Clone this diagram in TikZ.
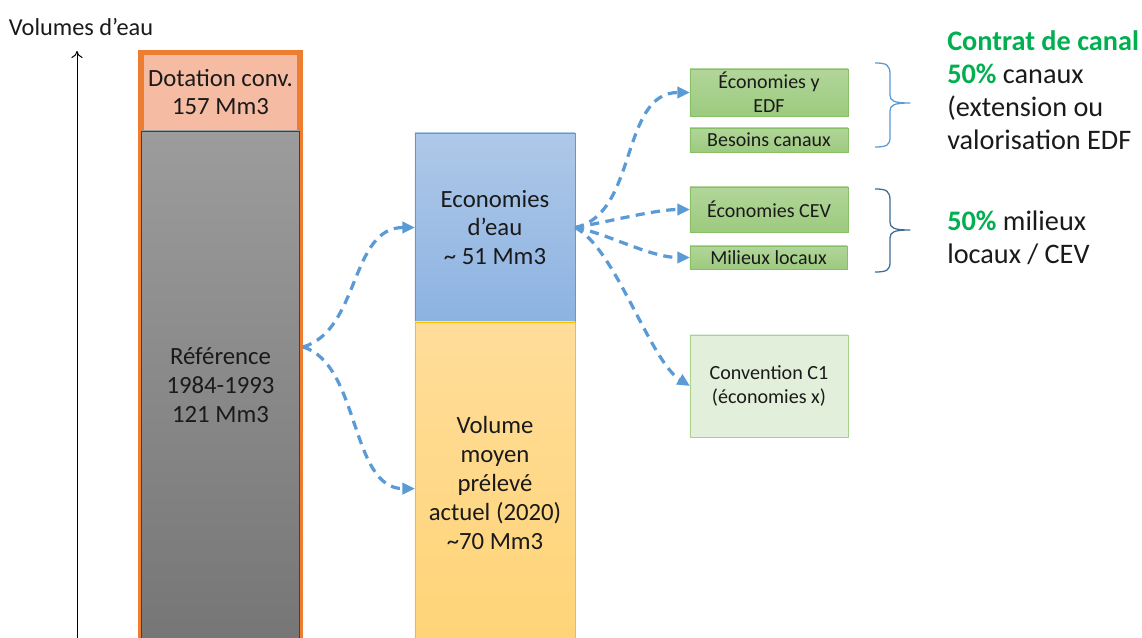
\documentclass[tikz,border=0pt]{standalone}
\usepackage{fontspec}
\setmainfont{Carlito}
\usetikzlibrary{arrows.meta}
\definecolor{dotfill}{HTML}{F6BCA3}
\definecolor{dotline}{HTML}{ED7D31}
\definecolor{reftop}{HTML}{9C9C9C}
\definecolor{refbot}{HTML}{767676}
\definecolor{ecotop}{HTML}{AEC8E8}
\definecolor{ecobot}{HTML}{8DB3E2}
\definecolor{ecoline}{HTML}{5B9BD5}
\definecolor{voltop}{HTML}{FFDD9A}
\definecolor{volbot}{HTML}{FFD477}
\definecolor{volline}{HTML}{FFC000}
\definecolor{grntop}{HTML}{B2D69A}
\definecolor{grnbot}{HTML}{9CCA7E}
\definecolor{grnline}{HTML}{86BF66}
\definecolor{convfill}{HTML}{E2EFDA}
\definecolor{convline}{HTML}{A9D18E}
\definecolor{flowblue}{HTML}{5B9BD5}
\definecolor{pct}{HTML}{00B050}
\definecolor{txt}{HTML}{1A1A1A}
\begin{document}
\begin{tikzpicture}[x = 0.025cm, y = -0.025cm,
	bar/.style = {rectangle, inner sep = 0pt, outer sep = 0pt, align = center, text = txt, font = \fontsize{17.6}{20.5}\selectfont},
	gbox/.style = {rectangle, inner sep = 0pt, outer sep = 0pt, minimum width = 3.95cm, align = center, text = txt, draw = grnline, top color = grntop, bottom color = grnbot, font = \fontsize{14.2}{17}\selectfont},
	note/.style = {inner sep = 0pt, align = left, text = txt, font = \fontsize{20.1}{23.5}\selectfont},
	flow/.style = {draw = flowblue, line width = 2.3pt, dash pattern = on 6.5pt off 4.5pt, -{Triangle[length = 9pt, width = 8pt]}}]
	\tikzstyle{brace line}=[line width = 0.9pt, line join = round]
	\useasboundingbox (0,0) rectangle (1142,637);
	\clip (0,0) rectangle (1142,637);
	\fill[white] (0,0) rectangle (1142,637);
	\coordinate (ybot) at (77,640);
	\coordinate (ytop) at (77,51);
	\draw[line width = 0.7pt, -{To[length = 5pt, width = 8pt]}] (ybot) -- (ytop);
	\node (ylabel) at (81,27) [text = txt, font = \fontsize{17.3}{19}\selectfont] {Volumes d’eau};
	\node (dot) at (220.5,349) [bar, draw = dotline, line width = 3.6pt, fill = dotfill, minimum width = 3.975cm, minimum height = 14.8cm] {};
	\node (dotlbl) at (220.5,92) [bar] {Dotation conv.\\157 Mm3};
	\node (ref) at (220.5,385) [bar, draw = black!75, line width = 0.6pt, top color = reftop, bottom color = refbot, minimum width = 3.95cm, minimum height = 12.7cm] {Référence\\1984-1993\\121 Mm3};
	\node (eco) at (495,227.5) [bar, draw = ecoline, line width = 0.6pt, top color = ecotop, bottom color = ecobot, minimum width = 4cm, minimum height = 4.725cm] {Economies\\d’eau\\\textasciitilde{} 51 Mm3};
	\node (vol) at (495,483) [bar, draw = volline, line width = 0.6pt, top color = voltop, bottom color = volbot, minimum width = 4cm, minimum height = 8.05cm] {Volume\\moyen\\prélevé\\actuel (2020)\\\textasciitilde70 Mm3};
	\node (eyedf) at (769,92.5) [gbox, minimum height = 1.175cm] {Économies y\\EDF};
	\node (besoins) at (769,140) [gbox, minimum height = 0.6cm] {Besoins canaux};
	\node (cev) at (769,209.5) [gbox, minimum height = 1.125cm] {Économies CEV};
	\node (milieux) at (768.5,257.5) [gbox, minimum width = 3.925cm, minimum height = 0.575cm] {Milieux locaux};
	\node (conv) at (769,386) [gbox, draw = convline, top color = convfill, bottom color = convfill, minimum height = 2.55cm, font = \fontsize{14.3}{17}\selectfont] {Convention C1\\(économies x)};
	\coordinate (refout) at (303,347);
	\draw[flow] (refout) .. controls +(57,-17) and +(-65,0) .. (eco.west);
	\draw[flow] (refout) .. controls +(57,17) and +(-65,0) .. ([yshift = -4pt]vol.west);
	\draw[flow] (eco.east) .. controls +(63,-13) and +(-70,0) .. (eyedf.west);
	\draw[flow] (eco.east) .. controls +(30,-5) and +(-35,0) .. (cev.west);
	\draw[flow] (eco.east) .. controls +(30,5) and +(-40,0) .. (milieux.west);
	\draw[flow] (eco.east) .. controls +(40,20) and +(-40,-25) .. (conv.west);
	\draw[brace line, draw = ecoline] (875,63) .. controls (887,63) and (890,65) .. (890,75) -- (890,95) .. controls (890,101) and (894,103) .. (910,103) .. controls (894,103) and (890,105) .. (890,111) -- (890,137) .. controls (890,145) and (887,147) .. (875,147);
	\draw[brace line, draw = ecoline!70!black] (875,189) .. controls (887,189) and (890,191) .. (890,201) -- (890,222) .. controls (890,228) and (894,230) .. (910,230) .. controls (894,230) and (890,232) .. (890,238) -- (890,262) .. controls (890,270) and (887,272) .. (875,272);
	\node (contrat) at (947,90) [note, anchor = west] {\textcolor{pct}{\textbf{Contrat de canal}}\\\textcolor{pct}{\textbf{50\%}} canaux\\(extension ou\\valorisation EDF};
	\node (milieuxtxt) at (947,238) [note, anchor = west] {\textcolor{pct}{\textbf{50\%}} milieux\\locaux / CEV};
\end{tikzpicture}
\end{document}
